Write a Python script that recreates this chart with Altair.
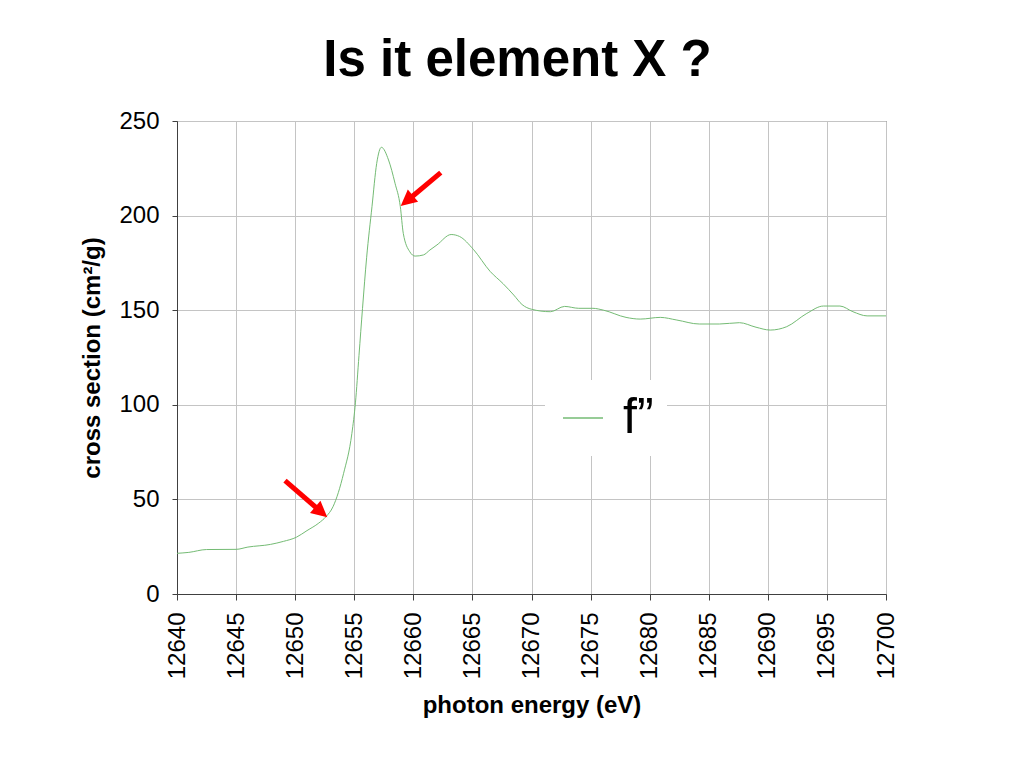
import pandas as pd
import altair as alt

# f'' cross section
energy = [12640.0, 12641.0, 12642.5, 12645.0, 12646.0, 12647.9, 12649.0, 12650.1,
          12651.0, 12652.0, 12652.6, 12653.2, 12654.1, 12654.8, 12655.1, 12655.4,
          12655.7, 12656.05, 12656.5, 12656.9, 12657.3, 12657.9, 12658.45, 12658.9,
          12659.15, 12659.7, 12660.15, 12660.85, 12661.4, 12662.0, 12663.2, 12663.9,
          12665.1, 12666.5, 12667.6, 12668.5, 12669.2, 12670.0, 12671.6, 12672.8,
          12674.0, 12675.2, 12676.1, 12678.0, 12679.2, 12680.9, 12682.3, 12684.2,
          12685.9, 12687.6, 12689.0, 12690.2, 12691.6, 12693.3, 12694.7, 12696.1,
          12697.2, 12698.4, 12700.0]
cross_section = [21.5, 22.0, 23.5, 23.6, 24.8, 26.2, 27.8, 30.0,
                 33.5, 37.5, 40.8, 46.1, 63.8, 84.9, 101.0, 126.0,
                 151.0, 178.0, 204.7, 227.6, 236.1, 229.4, 217.1, 204.7,
                 190.6, 180.9, 178.6, 179.2, 181.8, 184.5, 190.0, 189.0,
                 182.0, 170.5, 164.0, 158.0, 153.0, 150.5, 149.2, 152.0,
                 151.0, 151.0, 150.0, 146.2, 145.3, 146.2, 144.8, 142.7,
                 142.7, 143.4, 141.0, 139.5, 141.3, 148.3, 152.2, 152.2,
                 149.2, 147.0, 147.0]
series_name = "f\u201d"

# red arrows: tail, shaft end, tip (data units)
arrow_tail_x = [12649.14, 12662.32]
arrow_tail_y = [59.9, 222.7]
arrow_end_x = [12652.08, 12659.58]
arrow_end_y = [44.0, 208.4]
arrow_tip_x = [12652.72, 12658.93]
arrow_tip_y = [40.5, 205.1]
arrow_angle = [131, 230]

x_ticks = list(range(12640, 12701, 5))
y_ticks = [0, 50, 100, 150, 200, 250]

FONT = "Liberation Sans"

df = pd.DataFrame({"energy": energy, "xs": cross_section, "series": series_name})
arrows = pd.DataFrame({
    "x": arrow_tail_x, "y": arrow_tail_y,
    "x2": arrow_end_x, "y2": arrow_end_y,
    "tx": arrow_tip_x, "ty": arrow_tip_y, "angle": arrow_angle,
})

x_scale = alt.Scale(domain=[12640, 12700], nice=False, zero=False)
y_scale = alt.Scale(domain=[0, 250], nice=False)

line = alt.Chart(df).mark_line(strokeWidth=1, interpolate="monotone").encode(
    x=alt.X("energy:Q", scale=x_scale,
            axis=alt.Axis(title="photon energy (eV)", values=x_ticks, format="d",
                          labelAngle=270, labelAlign="right", labelBaseline="middle",
                          labelPadding=12, tickSize=6, titlePadding=15)),
    y=alt.Y("xs:Q", scale=y_scale,
            axis=alt.Axis(title="cross section (cm\u00b2/g)", values=y_ticks,
                          tickSize=5, labelPadding=13, titlePadding=14)),
    color=alt.Color("series:N", scale=alt.Scale(range=["#74bb74"]),
                    legend=alt.Legend(title=None, orient="none", legendX=368, legendY=259,
                                      padding=13, fillColor="white", symbolType="stroke",
                                      symbolSize=1600, symbolStrokeWidth=1.5,
                                      labelFontSize=50, labelFont=FONT, labelOffset=15,
                                      labelColor="black")),
)

shaft = alt.Chart(arrows).mark_rule(color="#ff0000", strokeWidth=5).encode(
    x="x:Q", y="y:Q", x2="x2:Q", y2="y2:Q",
)

head = alt.Chart(arrows).mark_point(
    shape="M0,0L-0.5,1L0.5,1Z", filled=True, color="#ff0000", opacity=1, size=1024,
).encode(
    x="tx:Q", y="ty:Q", angle=alt.Angle("angle:Q", scale=None),
)

chart = alt.layer(line, shaft, head).properties(
    width=709, height=473,
    title=alt.TitleParams("Is it element X ?", fontSize=51, fontWeight="bold", font=FONT,
                          anchor="middle", frame="group", dx=-14, dy=61, offset=43,
                          baseline="alphabetic", color="black"),
    padding={"left": 169, "top": 113, "right": 130, "bottom": 150},
    autosize="none",
).configure_axis(
    labelFont=FONT, labelFontSize=24, labelColor="black",
    titleFont=FONT, titleFontSize=24, titleFontWeight="bold", titleColor="black",
    gridColor="#c4c4c4", gridWidth=1, domainColor="#404040", tickColor="#404040",
).configure_view(
    stroke="#404040", strokeWidth=1,
)

chart.save("out.html", embed_options={"renderer": "svg", "actions": False})
